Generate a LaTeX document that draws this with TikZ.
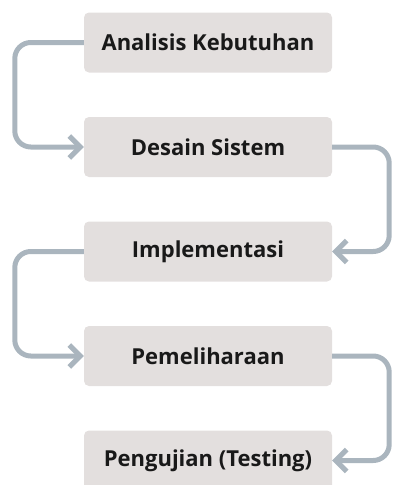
\documentclass[tikz,border=0pt]{standalone}
\usepackage{fontspec}
\setmainfont{Open Sans}
\usetikzlibrary{arrows.meta}
\definecolor{boxgray}{HTML}{E3DFDE}
\definecolor{arrowgray}{HTML}{AAB5BE}
\begin{document}
\begin{tikzpicture}[x=1pt,y=-1pt]
	\tikzstyle{tahap}=[fill=boxgray,rounded corners=5pt,minimum width=248pt,minimum height=60pt,font=\bfseries\fontsize{22}{26}\selectfont,text=black!90]
	\tikzstyle{alur}=[draw=arrowgray,line width=5pt,rounded corners=16pt,-{Straight Barb[length=11pt,width=22pt]}]
	\useasboundingbox (0,0) rectangle (393,485);
	\node[tahap] (1) at (208,42.5)  {Analisis Kebutuhan};
	\node[tahap] (2) at (208,147)   {Desain Sistem};
	\node[tahap] (3) at (208,251.5) {Implementasi};
	\node[tahap] (4) at (208,356)   {Pemeliharaan};
	\node[tahap] (5) at (208,460.5) {Pengujian (Testing)};

	\draw[alur] (1.west) -- ++(-69,0) |- (2.west);
	\draw[alur] (2.east) -- ++(57,0)  |- (3.east);
	\draw[alur] (3.west) -- ++(-69,0) |- (4.west);
	\draw[alur] (4.east) -- ++(57,0)  |- (5.east);
\end{tikzpicture}
\end{document}
